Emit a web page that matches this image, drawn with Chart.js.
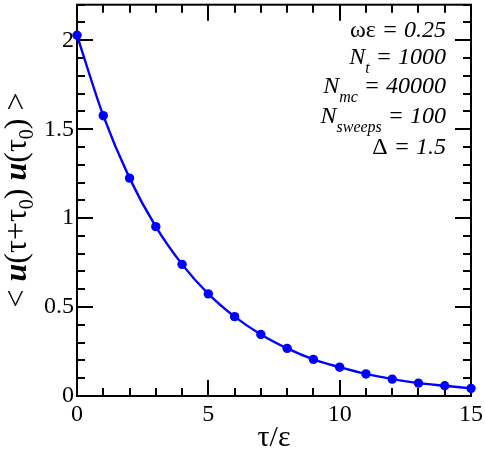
<!DOCTYPE html>
<html>
<head>
<meta charset="utf-8">
<script src="https://cdn.jsdelivr.net/npm/chart.js@4"></script>
<style>
  html, body { margin: 0; padding: 0; background: #fff; }
  #wrap { width: 485px; height: 450px; position: relative; }
</style>
</head>
<body>
<div id="wrap"><canvas id="c" width="485" height="450"></canvas></div>
<script>
// ---- data ----
const tauValues = [0, 1, 2, 3, 4, 5, 6, 7, 8, 9, 10, 11, 12, 13, 14, 15];
const corrValues = [2.028, 1.576, 1.225, 0.952, 0.740, 0.574, 0.446, 0.346, 0.268, 0.206, 0.162, 0.124, 0.095, 0.0725, 0.0575, 0.043];
const xTickLabels = [0, 5, 10, 15];
const yTickLabels = [0, 0.5, 1, 1.5, 2];
const xRange = [0, 15];
const yRange = [0, 2.2];
const xMinorStep = 1, xMajorStep = 5;
const yMinorStep = 0.1, yMajorStep = 0.5;
const annotationLines = [
  [["ωε", "up"], [" = 0.25", "it"]],
  [["N", "it"], ["t", "sub"], [" = 1000", "it"]],
  [["N", "it"], ["mc", "sub"], [" = 40000", "it"]],
  [["N", "it"], ["sweeps", "sub"], [" = 100", "it"]],
  [["Δ", "up"], [" = 1.5", "it"]]
];
const xTitle = "τ/ε";
const yTitleParts = [["<", "r"], [" ", "r"], ["u", "bi"], ["(τ+τ", "r"], ["0", "s"], [")", "r"], [" ", "r"], ["u", "bi"], ["(τ", "r"], ["0", "s"], [")", "r"], [" ", "r"], [">", "r"]];

const SERIF = '"Liberation Serif", "Times New Roman", serif';

const framePlugin = {
  id: 'frame',
  beforeDatasetsDraw(chart) {
    const ctx = chart.ctx;
    const {left, right, top, bottom} = chart.chartArea;
    const xs = chart.scales.x, ys = chart.scales.y;
    ctx.save();
    ctx.strokeStyle = '#000';
    ctx.lineWidth = 2;
    ctx.beginPath();
    const nx = Math.round((xRange[1] - xRange[0]) / xMinorStep);
    for (let i = 0; i <= nx; i++) {
      const v = xRange[0] + i * xMinorStep;
      const px = Math.round(xs.getPixelForValue(v));
      const major = Math.abs(v / xMajorStep - Math.round(v / xMajorStep)) < 1e-6;
      const L = major ? 16 : 8;
      ctx.moveTo(px, bottom); ctx.lineTo(px, bottom - L);
      ctx.moveTo(px, top); ctx.lineTo(px, top + L);
    }
    const ny = Math.round((yRange[1] - yRange[0]) / yMinorStep);
    for (let i = 0; i <= ny; i++) {
      const v = yRange[0] + i * yMinorStep;
      const py = Math.round(ys.getPixelForValue(v));
      const major = Math.abs(v / yMajorStep - Math.round(v / yMajorStep)) < 1e-6;
      const L = major ? 16 : 8;
      ctx.moveTo(left, py); ctx.lineTo(left + L, py);
      ctx.moveTo(right, py); ctx.lineTo(right - L, py);
    }
    ctx.stroke();
    ctx.strokeRect(left, top, right - left, bottom - top);
    ctx.restore();
  },
  afterDraw(chart) {
    const ctx = chart.ctx;
    const {left, right} = chart.chartArea;
    ctx.save();
    ctx.fillStyle = '#000';
    const fonts = {
      up: '24px ' + SERIF,
      it: 'italic 24px ' + SERIF,
      sub: 'italic 16px ' + SERIF
    };
    const baselines = [37, 64, 93, 123, 154];
    const rightEdge = 446;
    annotationLines.forEach((line, li) => {
      let w = 0;
      const widths = line.map(([t, f]) => { ctx.font = fonts[f]; const m = ctx.measureText(t).width; w += m; return m; });
      let x = rightEdge - w;
      line.forEach(([t, f], i) => {
        ctx.font = fonts[f];
        ctx.textAlign = 'left';
        ctx.textBaseline = 'alphabetic';
        ctx.fillText(t, x, baselines[li] + (f === 'sub' ? 9 : 0));
        x += widths[i];
      });
    });
    ctx.font = '30px ' + SERIF;
    ctx.textAlign = 'center';
    ctx.textBaseline = 'alphabetic';
    ctx.fillText(xTitle, (left + right) / 2, 446);
    const yf = {
      r: '32px ' + SERIF,
      bi: 'bold italic 32px ' + SERIF,
      s: '20px ' + SERIF
    };
    let tw = 0;
    const yw = yTitleParts.map(([t, f]) => { ctx.font = yf[f]; const m = ctx.measureText(t).width; tw += m; return m; });
    ctx.translate(26, 200);
    ctx.rotate(-Math.PI / 2);
    let xx = -tw / 2;
    yTitleParts.forEach(([t, f], i) => {
      ctx.font = yf[f];
      ctx.textAlign = 'left';
      ctx.fillText(t, xx, f === 's' ? 7 : 0);
      xx += yw[i];
    });
    ctx.restore();
  }
};

new Chart(document.getElementById('c'), {
  type: 'scatter',
  data: {
    datasets: [{
      data: tauValues.map((t, i) => ({x: t, y: corrValues[i]})),
      showLine: true,
      borderColor: '#0000ff',
      backgroundColor: '#0000ff',
      borderWidth: 2.4,
      pointRadius: 4.7,
      pointBorderWidth: 0,
      pointHoverRadius: 4.7,
      cubicInterpolationMode: 'monotone',
      clip: false
    }]
  },
  options: {
    responsive: false,
    animation: false,
    events: [],
    layout: { padding: { top: 3, right: 14, left: 0, bottom: 0 } },
    plugins: { legend: { display: false }, tooltip: { enabled: false } },
    scales: {
      x: {
        type: 'linear',
        min: xRange[0], max: xRange[1],
        grid: { display: false, drawTicks: false },
        border: { display: false },
        afterBuildTicks(scale) { scale.ticks = xTickLabels.map(v => ({value: v})); },
        ticks: {
          color: '#000',
          padding: 4,
          maxRotation: 0,
          font: { family: SERIF, size: 24 },
          callback: (v) => String(v)
        },
        afterFit(scale) { scale.height = 54; scale.paddingLeft = 0; scale.paddingRight = 0; }
      },
      y: {
        type: 'linear',
        min: yRange[0], max: yRange[1],
        grid: { display: false, drawTicks: false },
        border: { display: false },
        afterBuildTicks(scale) { scale.ticks = yTickLabels.map(v => ({value: v})); },
        ticks: {
          color: '#000',
          padding: 3,
          font: { family: SERIF, size: 24 },
          callback: (v) => String(v)
        },
        afterFit(scale) { scale.width = 77; scale.paddingTop = 0; scale.paddingBottom = 0; }
      }
    }
  },
  plugins: [framePlugin]
});
</script>
</body>
</html>
